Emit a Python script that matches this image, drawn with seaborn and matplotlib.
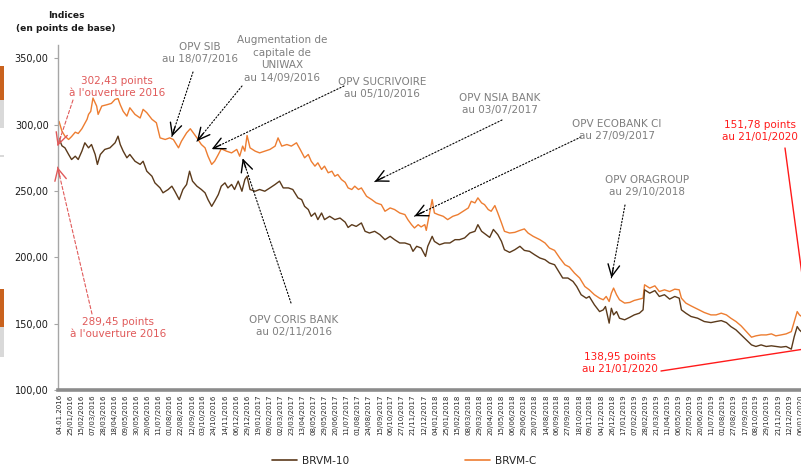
import numpy as np
import pandas as pd
import matplotlib
matplotlib.use("Agg")
import matplotlib.pyplot as plt
import seaborn as sns
from matplotlib import font_manager
from matplotlib.lines import Line2D
from matplotlib.patches import Rectangle

# ---------------- data (séance number = trading session since 04/01/2016) ----------------
sessions_c = [0, 4, 8, 13, 17, 22, 26, 31, 38, 40, 43, 46, 51, 53, 58, 65, 71, 76, 80, 83, 87, 92, 96,
              103, 110, 114, 119, 126, 132, 137, 144, 150, 155, 162, 166, 173, 178, 182, 187, 193, 198,
              202, 207, 211, 216, 220, 227, 234, 241, 245, 249, 252, 255, 259, 266, 272, 279, 286, 293,
              297, 302, 309, 315, 322, 327, 333, 338, 342, 347, 351, 356, 360, 365, 370, 374, 378, 383,
              388, 392, 397, 401, 406, 410, 417, 424, 430, 437, 442, 449, 455, 462, 469, 473, 478, 482,
              487, 491, 496, 498, 503, 506, 509, 514, 521, 527, 534, 541, 548, 555, 559, 564, 568, 573,
              577, 582, 586, 591, 595, 600, 604, 611, 618, 625, 631, 636, 643, 652, 659, 665, 672, 679,
              686, 692, 699, 706, 713, 719, 726, 733, 738, 742, 746, 749, 752, 756, 760, 767, 774, 780,
              787, 792, 794, 801, 808, 814, 821, 828, 835, 841, 844, 850, 857, 866, 875, 884, 891, 898,
              905, 911, 918, 925, 932, 939, 945, 952, 959, 966, 972, 979, 986, 993, 997, 1001, 1004, 1016]
values_c = [302.43, 295, 291.3, 288.8, 291, 294.3, 293.3, 296.9, 304, 307.7, 310, 320, 314, 307.7, 314,
            315, 316, 319, 319.6, 315, 310, 306.4, 312.7, 307.7, 305, 311.5, 309, 304, 301.4, 290, 288.8,
            290, 288.8, 282.5, 287.5, 293.8, 296.9, 293.8, 290, 285, 282.5, 276.2, 270, 272.4, 277.5,
            281.8, 280, 278.7, 281.3, 276.2, 283.8, 280, 291.8, 282.5, 280, 278.7, 280, 281.3, 283.8, 290,
            283.8, 285, 283.8, 286.3, 281.3, 275, 277.5, 272.4, 268.7, 271.2, 266.2, 268.7, 263.7, 264.9,
            261.1, 262.4, 258.6, 256.5, 252.3, 251.1, 253.6, 251.1, 252.3, 246, 243.5, 241, 239.7, 234.7,
            237.2, 236, 233.4, 232.2, 228.4, 224.6, 222.1, 224.6, 222.9, 224.6, 220.3, 234.7, 243.5,
            233.4, 232.2, 230.9, 228.4, 230.9, 232.2, 234.7, 237.2, 242.2, 241, 244.8, 241, 239.7, 236,
            234.7, 239, 233.4, 225.9, 219.6, 218.3, 218.8, 220.3, 221.4, 218.3, 215.8, 213.3, 210.8, 207,
            205.2, 199.5, 194.4, 192.7, 188.1, 184.4, 178, 175.5, 171.8, 169.2, 168, 170.5, 166.7, 173,
            176.8, 171.8, 168, 165.5, 166, 167.5, 168.5, 169.2, 179.3, 176.8, 178.5, 174.2, 175.5, 174.2,
            176, 175.5, 169.2, 165.5, 163.4, 160.9, 158.4, 156.6, 156.6, 157.9, 156.6, 154.1, 151.6,
            148.3, 144, 139.8, 140.8, 141.5, 141.5, 142.3, 140.8, 141.5, 142.3, 144, 151.6, 159.1, 156.6,
            151.78]

sessions_10 = [0, 4, 8, 13, 17, 22, 26, 31, 35, 40, 44, 49, 52, 56, 62, 69, 76, 80, 83, 87, 92, 96, 103,
               110, 114, 119, 126, 130, 137, 141, 148, 153, 157, 163, 168, 173, 177, 181, 187, 193, 198,
               202, 207, 211, 216, 220, 225, 229, 234, 238, 243, 248, 252, 255, 259, 266, 272, 279, 286,
               293, 299, 304, 311, 317, 324, 329, 333, 338, 342, 347, 351, 356, 360, 367, 374, 381, 388,
               392, 397, 403, 410, 415, 421, 428, 435, 442, 449, 455, 462, 469, 476, 480, 485, 491, 497,
               500, 506, 509, 516, 523, 530, 537, 543, 550, 557, 564, 568, 573, 579, 584, 589, 595, 600,
               604, 611, 618, 625, 631, 638, 645, 652, 659, 665, 672, 679, 683, 690, 697, 702, 708, 715,
               719, 726, 733, 738, 741, 746, 749, 752, 756, 760, 767, 774, 780, 787, 792, 794, 801, 808,
               814, 821, 828, 835, 841, 844, 850, 857, 866, 875, 884, 891, 898, 905, 911, 918, 925, 932,
               939, 945, 952, 959, 966, 972, 979, 986, 993, 997, 1001, 1004, 1016]
values_10 = [289.45, 284, 282.5, 277.5, 273.7, 276.2, 273.7, 280, 286.3, 282.5, 285, 277.5, 270, 277.5,
             281.3, 282.5, 286.3, 291.3, 285, 280, 275, 277.5, 272.4, 270, 272.4, 264.9, 261.1, 256.1,
             252.3, 248.6, 251.1, 253.6, 249.8, 243.5, 251.1, 254.9, 264.9, 257.4, 253.6, 251.1, 248.6,
             243.5, 238.4, 242.2, 247.3, 253.6, 256.1, 252.3, 254.9, 251.1, 257.4, 249.8, 258.6, 261.1,
             251.1, 249.8, 251.1, 249.8, 252.3, 254.9, 257.4, 252.3, 252.3, 251.1, 244.8, 243.5, 238.4,
             236, 230.9, 233.4, 228.4, 233.4, 228.4, 230.9, 228.4, 229.6, 226.5, 222.5, 224.6, 223.3,
             225.9, 219.6, 218.3, 219.6, 217.1, 213.3, 215.8, 213.3, 210.8, 210.8, 209.5, 204.5, 208.3,
             207, 200.7, 208.3, 215.8, 212, 209.5, 210.8, 210.8, 213.3, 213.3, 214.6, 218.3, 219.6, 224.6,
             219.6, 217.1, 215, 221, 217.1, 212, 205.7, 203.7, 205.7, 208.3, 205.2, 204.5, 201.9, 199.5,
             198.2, 195.7, 194.4, 188.1, 184.4, 184.4, 181.8, 178, 171.8, 169.2, 170.5, 164.2, 159.1,
             160.4, 162.9, 150.4, 161.6, 156.6, 159.1, 154.1, 152.9, 154.8, 156.6, 157.9, 160.4, 175.5,
             173, 174.9, 170.5, 171.8, 168.5, 170.5, 169.2, 160.4, 157.9, 155.4, 154.1, 151.6, 150.8,
             151.6, 152.3, 150.8, 147.8, 145.3, 141.5, 137.8, 134, 132.8, 134, 132.8, 133.3, 132.8, 132.3,
             132.8, 130.8, 140.3, 147.8, 145.3, 138.95]

date_labels = ["04.01.2016", "25/01/2016", "15/02/2016", "07/03/2016", "28/03/2016", "18/04/2016",
               "09/05/2016", "30/05/2016", "20/06/2016", "11/07/2016", "01/08/2016", "22/08/2016",
               "12/09/2016", "03/10/2016", "24/10/2016", "14/11/2016", "06/12/2016", "29/12/2016",
               "19/01/2017", "09/02/2017", "02/03/2017", "23/03/2017", "13/04/2017", "08/05/2017",
               "29/05/2017", "20/06/2017", "11/07/2017", "01/08/2017", "24/08/2017", "15/09/2017",
               "06/10/2017", "27/10/2017", "21/11/2017", "12/12/2017", "04/01/2018", "25/01/2018",
               "15/02/2018", "08/03/2018", "29/03/2018", "20/04/2018", "15/05/2018", "06/06/2018",
               "29/06/2018", "20/07/2018", "14/08/2018", "06/09/2018", "27/09/2018", "18/10/2018",
               "09/11/2018", "04/12/2018", "26/12/2018", "17/01/2019", "07/02/2019", "28/02/2019",
               "21/03/2019", "11/04/2019", "06/05/2019", "27/05/2019", "20/06/2019", "11/07/2019",
               "01/08/2019", "27/08/2019", "17/09/2019", "08/10/2019", "29/10/2019", "21/11/2019",
               "12/12/2019", "06/01/2020"]
label_step = 15  # sessions between two date labels

y_ticks = [100, 150, 200, 250, 300, 350]

assert len(sessions_c) == len(values_c), (len(sessions_c), len(values_c))
assert len(sessions_10) == len(values_10), (len(sessions_10), len(values_10))

# ---------------- style ----------------
sns.set_theme(style="white")
plt.rcParams["font.family"] = ["DejaVu Sans"]

names = {f.name for f in font_manager.fontManager.ttflist}
if "Liberation Sans Narrow" in names:
    tick_font, tick_size = "Liberation Sans Narrow", 6.7
else:
    tick_font, tick_size = "DejaVu Sans", 5.0

W, H = 801, 468
fig = plt.figure(figsize=(W / 100, H / 100), dpi=100)
fig.patch.set_facecolor("white")

def fx(x):
    return x / W

def fy(y):
    return 1 - y / H

ax = fig.add_axes([fx(58.3), 78 / H, (809 - 58.3) / W, 345 / H])
ax.set_facecolor("white")

col_c = "#ED7D31"
col_10 = "#5B3A1B"

df_c = pd.DataFrame({"seance": sessions_c, "indice": values_c})
df_10 = pd.DataFrame({"seance": sessions_10, "indice": values_10})
sns.lineplot(data=df_c, x="seance", y="indice", ax=ax, color=col_c, lw=1.0, legend=False)
sns.lineplot(data=df_10, x="seance", y="indice", ax=ax, color=col_10, lw=1.0, legend=False)

ax.set_xlim(-1, 1017)
ax.set_ylim(100, 360)
ax.set_xlabel("")
ax.set_ylabel("")

ax.set_xticks([i * label_step for i in range(len(date_labels))])
ax.set_xticklabels(date_labels, rotation=90, fontsize=tick_size, family=tick_font, color="#262626")
ax.set_yticks(y_ticks)
ax.set_yticklabels([f"{v:.2f}".replace(".", ",") for v in y_ticks], fontsize=7, color="#1a1a1a")
ax.tick_params(axis="x", length=0, pad=3)
ax.tick_params(axis="y", length=3, width=0.8, color="#A6A6A6", pad=4, left=True)

for s in ["top", "right"]:
    ax.spines[s].set_visible(False)
ax.spines["left"].set_color("#A6A6A6")
ax.spines["left"].set_linewidth(1.0)
ax.spines["bottom"].set_color("#8C8C8C")
ax.spines["bottom"].set_linewidth(2.6)

# title
fig.text(fx(66), fy(22), "Indices\n(en points de base)", ha="center", va="center",
         fontsize=6.6, fontweight="bold", color="#1a1a1a", linespacing=1.45)

# ---------------- annotations ----------------
def px(x, y):
    return (x, H - y)

def arrow(start, tip_data, color, ls, lw=0.8, head=True):
    ax.annotate("", xy=tip_data, xycoords="data", xytext=px(*start), textcoords="figure pixels",
                annotation_clip=False,
                arrowprops=dict(arrowstyle="-", linestyle=ls, color=color, lw=lw,
                                shrinkA=0, shrinkB=0))
    if head:
        tip_px = ax.transData.transform(tip_data)
        st = np.array(px(*start), dtype=float)
        d = st - tip_px
        d = d / np.hypot(*d)
        hs = tip_px + 10 * d
        ax.annotate("", xy=tip_data, xycoords="data", xytext=tuple(hs), textcoords="figure pixels",
                    annotation_clip=False,
                    arrowprops=dict(arrowstyle="->,head_length=0.7,head_width=0.35", color=color,
                                    lw=lw + 0.2, shrinkA=0, shrinkB=0))

gray = "#7F7F7F"
dot = (0, (1.2, 1.8))
ann_font = 7.5

def label(x, y, txt, color=gray, size=ann_font):
    fig.text(fx(x), fy(y), txt, ha="center", va="center", fontsize=size, color=color,
             linespacing=1.3)

label(200, 53, "OPV SIB\nau 18/07/2016")
arrow((193, 72), (153, 291), "black", dot)

label(282, 59, "Augmentation de\ncapitale de\nUNIWAX\nau 14/09/2016")
arrow((242, 86), (187, 287.5), "black", dot)

label(382, 88, "OPV SUCRIVOIRE\nau 05/10/2016")
arrow((344, 86), (207, 281.5), "black", dot)

label(294, 326, "OPV CORIS BANK\nau 02/11/2016")
arrow((291, 303), (249, 274.5), "black", dot)

label(500, 104, "OPV NSIA BANK\nau 03/07/2017")
arrow((502, 120), (428, 257), "black", dot)

label(617, 130, "OPV ECOBANK CI\nau 27/09/2017")
arrow((581, 137), (482, 231), "black", dot)

label(647, 186, "OPV ORAGROUP\nau 29/10/2018")
arrow((625, 205), (749, 184.5), "black", dot)

red_l = "#E05A5A"
dash = (0, (3, 2))
label(117, 87, "302,43 points\nà l'ouverture 2016", color=red_l)
arrow((73, 100), (-2, 283.8), red_l, dash)

label(118, 328, "289,45 points\nà l'ouverture 2016", color=red_l)
arrow((92, 314), (-2, 268), red_l, dash)

red = "#FF1A1A"
label(760, 131, "151,78 points\nau 21/01/2020", color=red)
arrow((785, 148), (sessions_c[-1], values_c[-1]), red, "-", lw=1.0, head=False)

label(620, 363, "138,95 points\nau 21/01/2020", color=red)
arrow((661, 371), (1012, 131), red, "-", lw=1.0, head=False)

# ---------------- legend ----------------
handles = [Line2D([], [], color=col_10, lw=1.2), Line2D([], [], color=col_c, lw=1.2)]
fig.legend(handles, ["BRVM-10", "BRVM-C"], loc="center", bbox_to_anchor=(fx(404), fy(461)),
           ncol=2, frameon=False, handlelength=2.4, handletextpad=0.4, columnspacing=11,
           fontsize=7.6, labelcolor="#262626", borderpad=0, borderaxespad=0)

# ---------------- page-edge decorations ----------------
for (y0, y1, c) in [(66, 100, "#C9621E"), (100, 128, "#D9D9D9"), (155, 157, "#D9D9D9"),
                    (289, 327, "#C9621E"), (327, 357, "#D9D9D9")]:
    fig.add_artist(Rectangle((0, fy(y1)), 4 / W, (y1 - y0) / H, transform=fig.transFigure,
                             color=c, lw=0))

fig.savefig("out.png", dpi=100)
